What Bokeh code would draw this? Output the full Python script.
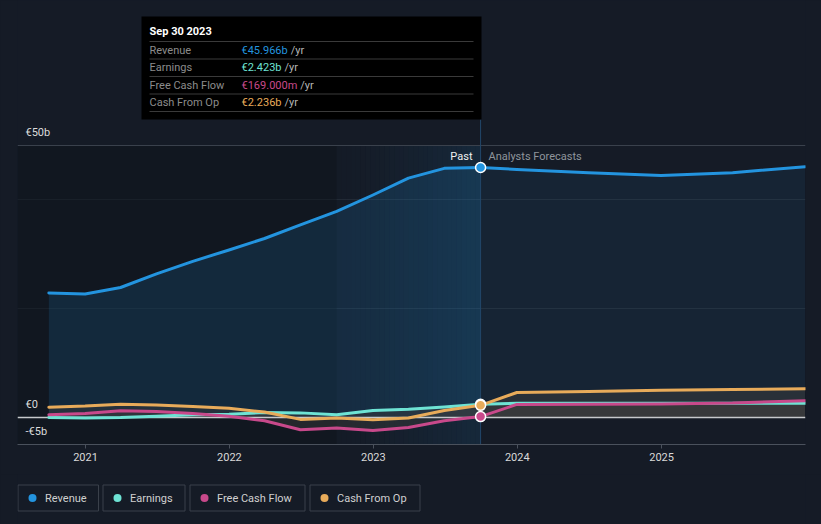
import pandas as pd
from bokeh.plotting import figure
from bokeh.models import Range1d, FixedTicker, DatetimeTickFormatter
from bokeh.layouts import column
from bokeh.core.properties import value
from bokeh.embed import file_html
from bokeh.resources import INLINE

# ---------------- data ----------------
series_names = ["Revenue", "Earnings", "Free Cash Flow", "Cash From Op"]
series_colors = ["#2394df", "#6ee3d4", "#c8498b", "#e8ab5a"]

past_dates = ["2020-09-30", "2020-12-31", "2021-03-31", "2021-06-30", "2021-09-30",
              "2021-12-31", "2022-03-31", "2022-06-30", "2022-09-30", "2022-12-31",
              "2023-03-31", "2023-06-30", "2023-09-30"]
fc_dates = ["2023-09-30", "2023-12-31", "2024-06-30", "2024-12-31", "2025-06-30", "2025-12-31"]

revenue_past = [22.9, 22.7, 23.9, 26.4, 28.7, 30.8, 32.9, 35.4, 37.9, 40.9, 44.0, 45.8, 45.966]
revenue_fc = [45.966, 45.6, 45.0, 44.5, 45.0, 46.1]
earnings_past = [0.0, -0.1, 0.0, 0.25, 0.5, 0.6, 0.9, 0.85, 0.5, 1.3, 1.5, 1.95, 2.423]
earnings_fc = [2.423, 2.6, 2.6, 2.6, 2.6, 2.6]
fcf_past = [0.5, 0.75, 1.25, 1.1, 0.75, 0.25, -0.6, -2.25, -1.95, -2.4, -1.85, -0.6, 0.169]
fcf_fc = [0.169, 2.4, 2.45, 2.5, 2.65, 3.1]
cfo_past = [1.9, 2.1, 2.45, 2.3, 2.0, 1.7, 1.0, -0.35, -0.1, -0.4, -0.1, 1.3, 2.236]
cfo_fc = [2.236, 4.6, 4.8, 5.0, 5.15, 5.3]

y_tick_values = [50, 0, -5]
y_tick_labels = ["€50b", "€0", "-€5b"]
x_tick_years = [2021, 2022, 2023, 2024, 2025]
grid_values = [20, 40]

tooltip_title = "Sep 30 2023"
tooltip_values = ["€45.966b", "€2.423b", "€169.000m", "€2.236b"]
tooltip_unit = "/yr"
past_label = "Past"
forecast_label = "Analysts Forecasts"
highlight_start = "2022-09-30"
highlight_end = "2023-09-30"

# ---------------- layout helpers (page pixels -> data) ----------------
BG = "#151b26"
FONT = value("Roboto")
W = 821
FRAME_LEFT = 17
FRAME_RIGHT = 805


def ms(d):
    return pd.Timestamp(d).value / 1e6


X2021 = ms("2021-01-01")
X2026 = ms("2026-01-01")
PX_PER_MS = 720.0 / (X2026 - X2021)          # 2021 at page x 85, 2026 at page x 805
X0 = X2021 - (85 - FRAME_LEFT) / PX_PER_MS   # frame left at page x 17
X1 = X2026
PX_PER_B = 5.44                              # zero at page y 417
FRAME_TOP = 0
FRAME_BOTTOM = 444
Y0 = -(FRAME_BOTTOM - 417) / PX_PER_B
Y1 = (417 - FRAME_TOP) / PX_PER_B
MAIN_H = 474


def px_x(px):
    return X2021 + (px - 85) / PX_PER_MS


def px_y(py):
    return (417 - py) / PX_PER_B


p = figure(width=W, height=MAIN_H, x_range=Range1d(X0, X1), y_range=Range1d(Y0, Y1),
           x_axis_type="datetime", y_axis_location=None,
           output_backend="svg", toolbar_location=None,
           min_border_left=FRAME_LEFT, min_border_right=W - FRAME_RIGHT,
           min_border_top=FRAME_TOP, min_border_bottom=MAIN_H - FRAME_BOTTOM,
           background_fill_color=BG, border_fill_color=BG)
p.outline_line_color = None
p.xgrid.grid_line_color = None
p.ygrid.ticker = FixedTicker(ticks=grid_values)
p.ygrid.grid_line_color = "#232a35"
p.ygrid.grid_line_width = 1

xa = p.xaxis[0]
xa.ticker = FixedTicker(ticks=[ms(f"{y}-01-01") for y in x_tick_years])
xa.formatter = DatetimeTickFormatter(years="%Y", months="%Y", days="%Y", hours="%Y",
                                     minutes="%Y", seconds="%Y", milliseconds="%Y",
                                     microseconds="%Y", minsec="%Y", hourmin="%Y")
xa.axis_line_color = "#4a515c"
xa.major_tick_line_color = "#4a515c"
xa.major_tick_in = 0
xa.major_tick_out = 4
xa.minor_tick_line_color = None
xa.major_label_text_color = "#d9d9d9"
xa.major_label_text_font = "Roboto"
xa.major_label_text_font_size = "11px"
xa.major_label_standoff = 4

hs, he = ms(highlight_start), ms(highlight_end)

# darker past background
p.quad(left=[X0], right=[hs], bottom=[Y0], top=[50], fill_color="#0e131a",
       fill_alpha=0.45, line_color=None)
# highlighted last-year band (horizontal gradient)
N = 30
step = (he - hs) / N
p.quad(left=[hs + i * step for i in range(N)], right=[hs + (i + 1) * step for i in range(N)],
       bottom=[Y0] * N, top=[50] * N, fill_color="#2394df",
       fill_alpha=[0.005 + 0.11 * (i / (N - 1)) ** 1.3 for i in range(N)], line_color=None)

pdates = pd.to_datetime(past_dates)
fdates = pd.to_datetime(fc_dates)

# revenue area
p.varea(x=pdates, y1=0, y2=revenue_past, fill_color=series_colors[0], fill_alpha=0.15)
p.varea(x=fdates, y1=0, y2=revenue_fc, fill_color=series_colors[0], fill_alpha=0.08)

# small series areas
small = [(earnings_past, earnings_fc), (fcf_past, fcf_fc), (cfo_past, cfo_fc)]
for (sp, sf) in small:
    p.varea(x=pdates, y1=0, y2=sp, fill_color="#3c3c3c", fill_alpha=0.45)
    p.varea(x=fdates, y1=0, y2=sf, fill_color="#3c3c3c", fill_alpha=0.5)

# 50b line and zero line
p.segment(x0=[X0], x1=[X1], y0=[50], y1=[50], line_color="#3a414c", line_width=1)
p.segment(x0=[X0], x1=[X1], y0=[0], y1=[0], line_color="#c6c9cc", line_width=1.5)

# divider between past and forecast
p.segment(x0=[he], x1=[he], y0=[Y0], y1=[px_y(119)], line_color="#22476a", line_width=1)

# series lines
all_series = [(revenue_past, revenue_fc), (earnings_past, earnings_fc),
              (fcf_past, fcf_fc), (cfo_past, cfo_fc)]
for (sp, sf), col in zip(all_series, series_colors):
    p.line(x=pdates, y=sp, line_color=col, line_width=3, line_join="round", line_cap="round")
    p.line(x=fdates, y=sf, line_color=col, line_width=3, line_join="round", line_cap="round")

# markers at the last reported point
for (sp, sf), col in zip(all_series, series_colors):
    p.scatter(x=[pdates[-1]], y=[sp[-1]], size=10, fill_color=col, line_color="white",
              line_width=1.5)

# y labels inside frame
p.text(x=[px_x(25)] * 3, y=y_tick_values, text=y_tick_labels, text_font=FONT,
       text_font_size="11px", text_color="#dcdcdc", text_baseline="middle",
       text_align="left", y_offset=-13)

# past / forecast labels
p.text(x=[px_x(472)], y=[px_y(156)], text=[past_label], text_font=FONT, text_font_size="11px",
       text_color="#f0f0f0", text_baseline="middle", text_align="right")
p.text(x=[px_x(488)], y=[px_y(156)], text=[forecast_label], text_font=FONT,
       text_font_size="11px", text_color="#8f959c", text_baseline="middle", text_align="left")

# tooltip
p.quad(left=[px_x(141)], right=[px_x(481)], top=[px_y(16)], bottom=[px_y(119)],
       fill_color="#000000", line_color=None)
p.text(x=[px_x(149)], y=[px_y(31)], text=[tooltip_title], text_font=FONT,
       text_font_size="11px", text_font_style="bold", text_color="#ffffff",
       text_baseline="middle", text_align="left")
sep_y = [41, 58.5, 76, 93.5, 111]
p.segment(x0=[px_x(149)] * 5, x1=[px_x(473)] * 5, y0=[px_y(v) for v in sep_y],
          y1=[px_y(v) for v in sep_y], line_color="#3a3a3a", line_width=1)
row_y = [49.5, 67, 84.5, 101.5]
p.text(x=[px_x(149)] * 4, y=[px_y(v) for v in row_y], text=series_names, text_font=FONT,
       text_font_size="11px", text_color="#8c8c8c", text_baseline="middle", text_align="left")


def text_w(s):
    w = 0.0
    for ch in s:
        if ch == ".":
            w += 2.8
        elif ch == "m":
            w += 9.5
        else:
            w += 6.2
    return w


for v, col, ry in zip(tooltip_values, series_colors, row_y):
    p.text(x=[px_x(241)], y=[px_y(ry)], text=[v], text_font=FONT, text_font_size="11px",
           text_color=col, text_baseline="middle", text_align="left")
    p.text(x=[px_x(241 + text_w(v) + 3)], y=[px_y(ry)], text=[tooltip_unit], text_font=FONT,
           text_font_size="11px", text_color="#b5b5b5", text_baseline="middle",
           text_align="left")

# ---------------- legend figure (page coordinates; frame aligned with main frame) ----------
LEG_H = 524 - MAIN_H
leg = figure(width=W, height=LEG_H, x_range=Range1d(FRAME_LEFT, FRAME_RIGHT),
             y_range=Range1d(524, MAIN_H),
             output_backend="svg", toolbar_location=None,
             min_border_left=FRAME_LEFT, min_border_right=W - FRAME_RIGHT,
             min_border_top=0, min_border_bottom=0,
             x_axis_location=None, y_axis_location=None,
             background_fill_color=BG, border_fill_color=BG)
leg.outline_line_color = None
leg.grid.grid_line_color = None

box_widths = [80.5, 82, 115, 110]
lefts = []
cur = 17.5
for w in box_widths:
    lefts.append(cur)
    cur += w + 5
lefts[1:] = [l - 0.5 for l in lefts[1:]]
leg.quad(left=lefts, right=[l + w for l, w in zip(lefts, box_widths)], top=[484.5] * 4,
         bottom=[510.5] * 4, fill_color=None, line_color="#3a404a", line_width=1)
leg.scatter(x=[l + 14.5 for l in lefts], y=[497.5] * 4, size=8, fill_color=series_colors,
            line_color=None)
leg.text(x=[l + 27 for l in lefts], y=[497.5] * 4, text=series_names, text_font=FONT,
         text_font_size="11px", text_color="#d0d0d0", text_baseline="middle",
         text_align="left")

layout = column(p, leg)
html = file_html(layout, INLINE)
style = "<style>html, body { background-color: %s !important; }</style>" % BG
html = html.replace("</head>", style + "</head>", 1)
open("out.html", "w").write(html)
